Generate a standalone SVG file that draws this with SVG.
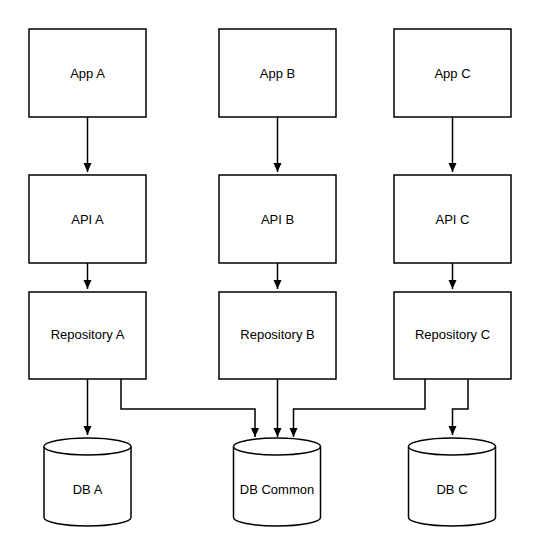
<svg xmlns="http://www.w3.org/2000/svg" width="540" height="555" viewBox="0 0 540 555">
<style>
.box{fill:#fff;stroke:#000;stroke-width:1.5}
.db{fill:#fff;stroke:#000;stroke-width:1.5}
.lbl{font-family:"Liberation Sans",Arial,sans-serif;font-size:13px;fill:#000;text-anchor:middle}
.con{fill:none;stroke:#000;stroke-width:1.5}
</style>
<defs>
<marker id="arr" markerWidth="10" markerHeight="10" refX="9" refY="5" orient="auto" markerUnits="userSpaceOnUse">
<path d="M0,1 L9,5 L0,9 Z" fill="#000"/>
</marker>
</defs>
<rect width="540" height="555" fill="#fff"/>
<g id="connectors">
<path class="con" d="M87.5,117 V172" marker-end="url(#arr)"/>
<path class="con" d="M277.5,117 V172" marker-end="url(#arr)"/>
<path class="con" d="M452.5,117 V172" marker-end="url(#arr)"/>
<path class="con" d="M87.5,263 V289" marker-end="url(#arr)"/>
<path class="con" d="M277.5,263 V289" marker-end="url(#arr)"/>
<path class="con" d="M452.5,263 V289" marker-end="url(#arr)"/>
<path class="con" d="M87.5,379 V435" marker-end="url(#arr)"/>
<path class="con" d="M121,379 V409 H255 V437" marker-end="url(#arr)"/>
<path class="con" d="M277.5,379 V437" marker-end="url(#arr)"/>
<path class="con" d="M425,379 V409 H293.5 V437" marker-end="url(#arr)"/>
<path class="con" d="M468,379 V409 H452.5 V435" marker-end="url(#arr)"/>
</g>
<g id="app-a"><rect class="box" x="29" y="29" width="117" height="88"/><text class="lbl" x="87.5" y="77.5">App A</text></g>
<g id="app-b"><rect class="box" x="219" y="29" width="117" height="88"/><text class="lbl" x="277.5" y="77.5">App B</text></g>
<g id="app-c"><rect class="box" x="394" y="29" width="117" height="88"/><text class="lbl" x="452.5" y="77.5">App C</text></g>
<g id="api-a"><rect class="box" x="29" y="175" width="117" height="88"/><text class="lbl" x="87.5" y="223.5">API A</text></g>
<g id="api-b"><rect class="box" x="219" y="175" width="117" height="88"/><text class="lbl" x="277.5" y="223.5">API B</text></g>
<g id="api-c"><rect class="box" x="394" y="175" width="117" height="88"/><text class="lbl" x="452.5" y="223.5">API C</text></g>
<g id="repo-a"><rect class="box" x="29" y="292" width="117" height="87"/><text class="lbl" x="87.5" y="339">Repository A</text></g>
<g id="repo-b"><rect class="box" x="219" y="292" width="117" height="87"/><text class="lbl" x="277.5" y="339">Repository B</text></g>
<g id="repo-c"><rect class="box" x="394" y="292" width="117" height="87"/><text class="lbl" x="452.5" y="339">Repository C</text></g>
<g id="db-a">
<path class="db" d="M44,446.5 A43.5,8.5 0 0 1 131,446.5 V517.5 A43.5,8.5 0 0 1 44,517.5 Z"/>
<path class="db" d="M44,446.5 A43.5,8.5 0 0 0 131,446.5"/>
<text class="lbl" x="87.5" y="494">DB A</text>
</g>
<g id="db-common">
<path class="db" d="M233.5,446.5 A43.5,8.5 0 0 1 320.5,446.5 V517.5 A43.5,8.5 0 0 1 233.5,517.5 Z"/>
<path class="db" d="M233.5,446.5 A43.5,8.5 0 0 0 320.5,446.5"/>
<text class="lbl" x="277" y="494">DB Common</text>
</g>
<g id="db-c">
<path class="db" d="M408.5,446.5 A43.5,8.5 0 0 1 495.5,446.5 V517.5 A43.5,8.5 0 0 1 408.5,517.5 Z"/>
<path class="db" d="M408.5,446.5 A43.5,8.5 0 0 0 495.5,446.5"/>
<text class="lbl" x="452" y="494">DB C</text>
</g>
</svg>
